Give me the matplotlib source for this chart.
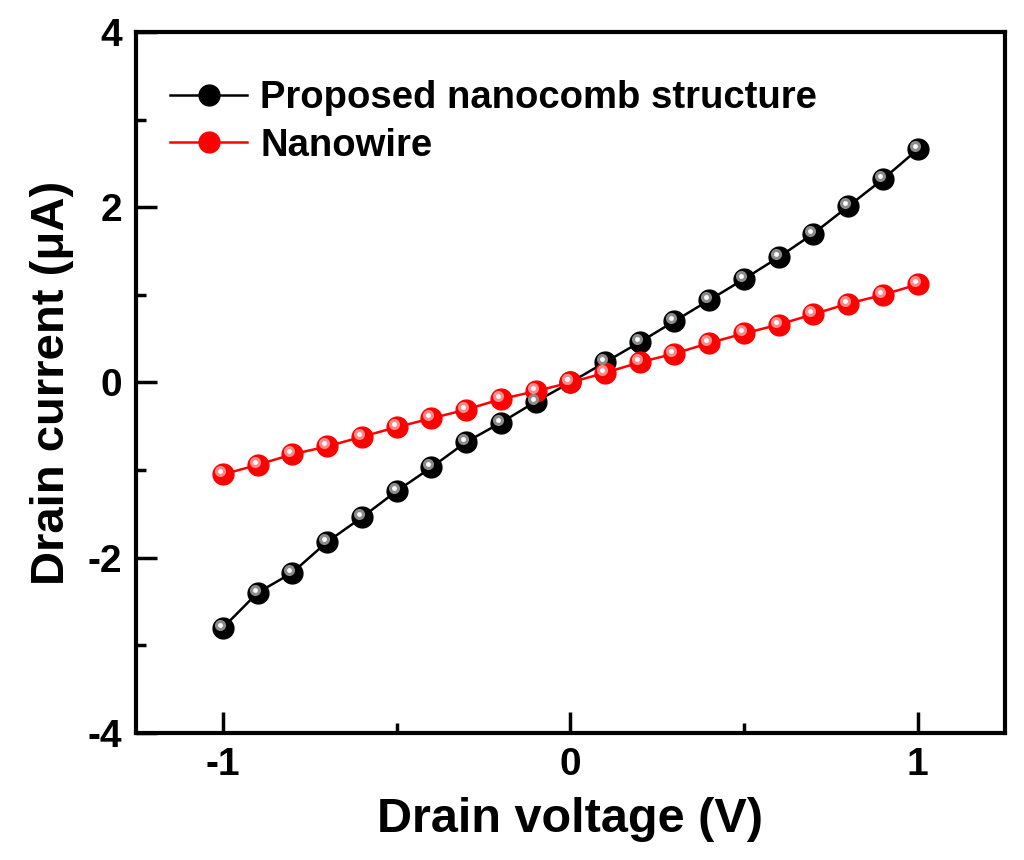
import numpy as np
import matplotlib.pyplot as plt
from matplotlib.transforms import offset_copy
from matplotlib.lines import Line2D

plt.rcParams['font.family'] = ['Liberation Sans', 'DejaVu Sans']
plt.rcParams['font.weight'] = 'bold'

# Drain voltage sweep (V)
voltage = [-1.0, -0.9, -0.8, -0.7, -0.6, -0.5, -0.4, -0.3, -0.2, -0.1, 0.0,
           0.1, 0.2, 0.3, 0.4, 0.5, 0.6, 0.7, 0.8, 0.9, 1.0]
# Drain current (uA)
nanocomb = [-2.80, -2.40, -2.17, -1.82, -1.54, -1.24, -0.97, -0.68, -0.46, -0.22, 0.0,
            0.23, 0.46, 0.70, 0.94, 1.18, 1.43, 1.70, 2.01, 2.32, 2.66]
nanowire = [-1.05, -0.94, -0.82, -0.73, -0.62, -0.51, -0.41, -0.31, -0.19, -0.10, 0.0,
            0.11, 0.23, 0.33, 0.45, 0.56, 0.66, 0.78, 0.90, 1.00, 1.12]

fig = plt.figure(figsize=(10.24, 8.6), dpi=100)
ax = fig.add_axes([0.1328, 0.1477, 0.8482, 0.8151])

shine = offset_copy(ax.transData, fig=fig, x=-3, y=3, units='dots')

def ball_series(x, y, color, hilite):
    ax.plot(x, y, '-', color=color, lw=1.8, zorder=2)
    ax.plot(x, y, 'o', color=color, ms=15, mec=color, zorder=3)
    ax.plot(x, y, 'o', color=hilite, ms=8, mec='none',
            transform=shine, zorder=4)
    ax.plot(x, y, 'o', color='white', ms=3.5, mec='none',
            transform=shine, zorder=5)

ball_series(voltage, nanocomb, 'black', '#8c8c8c')
ball_series(voltage, nanowire, 'red', '#ff8a8a')

ax.set_xlim(-1.25, 1.25)
ax.set_ylim(-4, 4)
ax.set_xticks([-1, 0, 1])
ax.set_xticklabels(['-1', '0', '1'])
ax.set_xticks([-0.5, 0.5], minor=True)
ax.set_yticks([-4, -2, 0, 2, 4])
ax.set_yticklabels(['-4', '-2', '0', '2', '4'])
ax.set_yticks([-3, -1, 1, 3], minor=True)
ax.tick_params(which='major', direction='in', length=15, width=2.5,
               labelsize=28, pad=10)
ax.tick_params(which='minor', direction='in', length=7, width=2.5)
for s in ax.spines.values():
    s.set_linewidth(3)

ax.set_xlabel('Drain voltage (V)', fontsize=35, fontweight='bold', labelpad=10)
ax.set_ylabel('Drain current (\u03bcA)', fontsize=34, fontweight='bold', labelpad=10)

handles = [
    Line2D([], [], color='black', lw=1.8, marker='o', ms=15, mfc='black', mec='black'),
    Line2D([], [], color='red', lw=1.8, marker='o', ms=15, mfc='red', mec='red'),
]
ax.legend(handles, ['Proposed nanocomb structure', 'Nanowire'],
          loc='upper left', frameon=False, fontsize=27.5, handlelength=2.0,
          handletextpad=0.35, labelspacing=0.3, borderaxespad=0.5,
          bbox_to_anchor=(0.0, 0.98))

fig.savefig('out.png', dpi=100)
